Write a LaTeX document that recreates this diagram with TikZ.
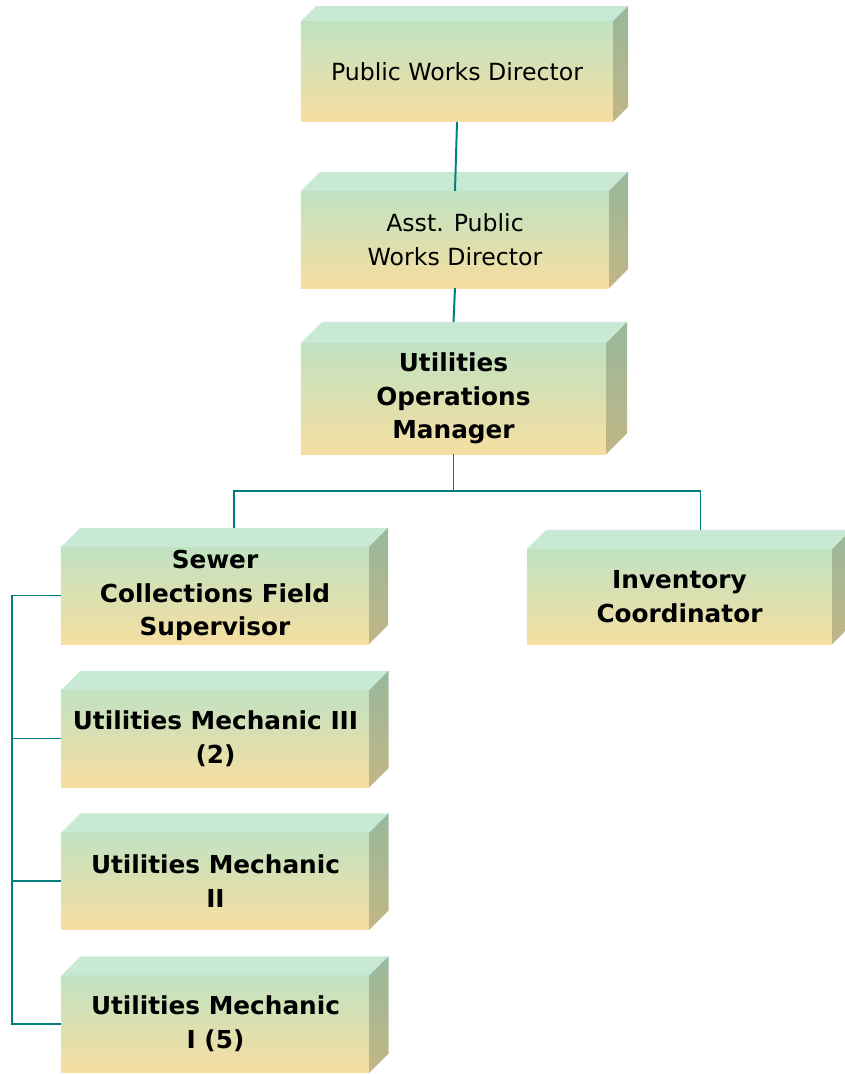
\documentclass[tikz,border=0pt]{standalone}
\usepackage{fontspec}
\setmainfont{DejaVu Sans}
\usetikzlibrary{positioning,calc}
\definecolor{facetop}{RGB}{192,226,194}
\definecolor{facebot}{RGB}{246,222,160}
\definecolor{lidcol}{RGB}{200,234,212}
\definecolor{sidetop}{RGB}{152,184,156}
\definecolor{sidebot}{RGB}{194,182,134}
\definecolor{teal}{RGB}{0,126,130}
\tikzset{
  link/.style={draw=teal, line width=1.4pt},
  slabface/.style={top color=facetop, bottom color=facebot, inner sep=0pt, outer sep=0pt, align=center, minimum width=7.7cm, minimum height=2.43cm},
  plainlabel/.style={slabface, font=\fontsize{16.8}{24}\selectfont},
  boldlabel/.style={slabface, font=\fontsize{17.6}{24}\selectfont\bfseries},
  lid/.style={fill=lidcol},
  flank/.style={top color=sidetop, bottom color=sidebot}
}
% top and right faces of a slab
\newcommand{\slab}[2]{%
  \path[lid] (#1.north west) -- ++(#2,-#2) -- ($(#1.north east)+(#2,-#2)$) -- (#1.north east) -- cycle;
  \path[flank] (#1.north east) -- ++(#2,-#2) -- ($(#1.south east)+(#2,-#2)$) -- (#1.south east) -- cycle;
}

\begin{document}
\begin{tikzpicture}[x=0.025cm, y=-0.025cm]
  \useasboundingbox (0,0) rectangle (844,1074);

  \node[plainlabel, minimum width=7.8cm, minimum height=2.52cm] (pwd) at (457,71.5) {Public Works Director};
  \node[plainlabel] (asst) at (455,239.5) {Asst. Public\\Works Director};
  \node[boldlabel, minimum width=7.63cm, minimum height=2.78cm] (uom) at (453.5,398.5) {Utilities\\Operations\\Manager};
  \node[boldlabel] (sewer) at (215,595.5) {Sewer\\Collections Field\\Supervisor};
  \node[boldlabel, minimum width=7.63cm, minimum height=2.38cm] (inv) at (679.5,596.5) {Inventory\\Coordinator};
  \node[boldlabel] (mech3) at (215.5,738.5) {Utilities Mechanic III\\(2)};
  \node[boldlabel] (mech2) at (215.5,881) {Utilities Mechanic\\II};
  \node[boldlabel] (mech1) at (215.5,1024) {Utilities Mechanic\\I (5)};

  \slab{pwd}{15}
  \slab{asst}{19}
  \slab{uom}{21}
  \slab{sewer}{19}
  \slab{inv}{19}
  \slab{mech3}{19}
  \slab{mech2}{19}
  \slab{mech1}{19}

  \coordinate (uomtop) at ($(uom.north)+(10,-21)$);
  \coordinate (sewertop) at ($(sewer.north)+(19,-19)$);
  \coordinate (invtop) at ($(inv.north)+(21,-19)$);
  \coordinate (bus) at (12,595.5);

  \draw[link] (pwd.south) -- (asst.north);
  \draw[link] (asst.south) -- (uom.north |- uomtop);
  \draw[link] (uom.south) -- ++(0,37) -| (sewertop);
  \draw[link] (uom.south) -- ++(0,37) -| (invtop);
  \draw[link] (sewer.west) -- (bus) |- (mech1.west);
  \draw[link] (mech3.west) -- (bus |- mech3.west);
  \draw[link] (mech2.west) -- (bus |- mech2.west);
\end{tikzpicture}
\end{document}
